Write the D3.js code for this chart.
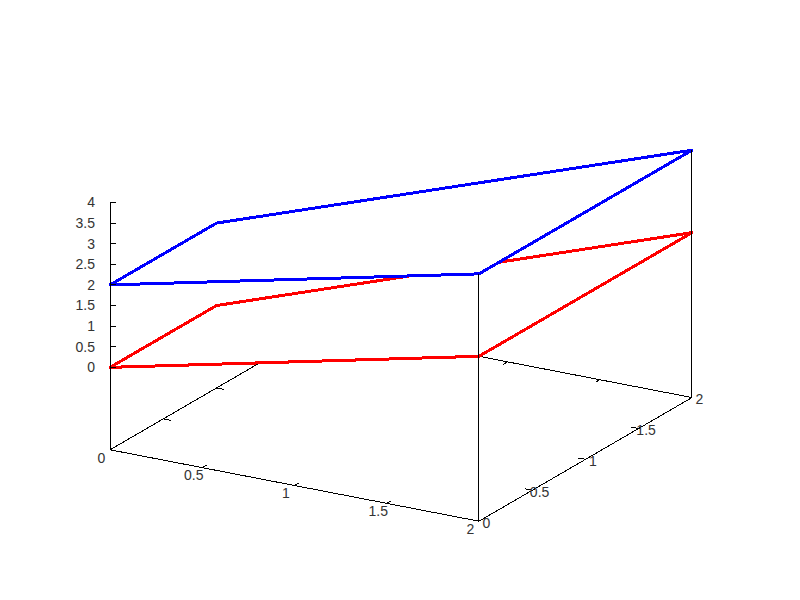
<!DOCTYPE html>
<html>
<head>
<meta charset="utf-8">
<script src="https://cdn.jsdelivr.net/npm/d3@7"></script>
<style>
  body { margin: 0; background: #fff; }
  text { font-family: "Liberation Sans", Arial, sans-serif; font-size: 14px; fill: #333; }
</style>
</head>
<body>
<div class="svg-container"></div>
<script>
// data: two scan rows (x = 0 and x = 2), each with two points
var rowX = [0, 2];
var rowY = [[0, 1], [0, 2]];
var redZ = [[0, 0], [2, 2]];
var blueZ = [[2, 2], [4, 4]];

var xTicks = [0, 0.5, 1, 1.5, 2],
    yTicks = [0, 0.5, 1, 1.5, 2],
    zTicks = [0, 0.5, 1, 1.5, 2, 2.5, 3, 3.5, 4];

var width = 800, height = 600;

var svg = d3.select(".svg-container").append("svg")
    .attr("width", width)
    .attr("height", height);

// gnuplot style view: rot_x 60, rot_z 30, ticslevel 0.5
var rotX = 60 * Math.PI / 180,
    rotZ = 30 * Math.PI / 180,
    cx = 401, cy = 300,
    sx = 213, sy = 142.8;

var zMin = 0, zMax = 4,
    zBase = zMin - 0.5 * (zMax - zMin);

var xN = d3.scaleLinear().domain([0, 2]).range([-1, 1]),
    yN = d3.scaleLinear().domain([0, 2]).range([-1, 1]),
    zN = d3.scaleLinear().domain([zBase, zMax]).range([-1, 1]);

function project(x, y, z) {
    var X = xN(x), Y = yN(y), Z = zN(z);
    var u = X * Math.cos(rotZ) + Y * Math.sin(rotZ);
    var v = -X * Math.sin(rotZ) + Y * Math.cos(rotZ);
    var w = v * Math.cos(rotX) + Z * Math.sin(rotX);
    return [cx + sx * u, cy - sy * w];
}

var line = d3.line();
var ticLen = 0.04; // in data units of the other axis

function seg(g, a, b) {
    g.append("path")
        .attr("d", line([a, b]))
        .attr("stroke", "#000")
        .attr("stroke-width", 1)
        .attr("fill", "none")
        .attr("shape-rendering", "crispEdges");
}

// back part of the base (drawn first so surfaces hide it)
var back = svg.append("g").attr("class", "back");
seg(back, project(0, 0, zBase), project(0, 2, zBase));
seg(back, project(0, 2, zBase), project(2, 2, zBase));
// mirror tics on back edges
xTicks.slice(1, -1).forEach(function (t) {
    seg(back, project(t, 2, zBase), project(t, 2 - ticLen, zBase));
});
yTicks.slice(1, -1).forEach(function (t) {
    seg(back, project(0, t, zBase), project(ticLen, t, zBase));
});

// surfaces, hidden3d approximated by white fill in back-to-front order
function surface(zs, color) {
    var pts = [
        project(rowX[0], rowY[0][0], zs[0][0]),
        project(rowX[0], rowY[0][1], zs[0][1]),
        project(rowX[1], rowY[1][1], zs[1][1]),
        project(rowX[1], rowY[1][0], zs[1][0])
    ];
    svg.append("path")
        .attr("d", line(pts) + "Z")
        .attr("fill", "#fff")
        .attr("stroke", color)
        .attr("stroke-width", 3)
        .attr("stroke-linejoin", "round")
        .attr("shape-rendering", "crispEdges");
}
surface(redZ, "#ff0000");
surface(blueZ, "#0000ff");

// front part of the border
var front = svg.append("g").attr("class", "front");
seg(front, project(0, 0, zBase), project(2, 0, zBase));
seg(front, project(2, 0, zBase), project(2, 2, zBase));
seg(front, project(0, 0, zBase), project(0, 0, zMax));
seg(front, project(2, 0, zBase), project(2, 0, zMax));
seg(front, project(2, 2, zBase), project(2, 2, zMax));

// x tics and labels
xTicks.forEach(function (t) {
    if (t > 0 && t < 2) seg(front, project(t, 0, zBase), project(t, ticLen, zBase));
    var p = project(t, -0.08, zBase);
    front.append("text")
        .attr("x", p[0]).attr("y", p[1] + 3)
        .attr("dy", "0.35em")
        .style("text-anchor", "middle")
        .text(t);
});

// y tics and labels
yTicks.forEach(function (t) {
    if (t > 0 && t < 2) seg(front, project(2, t, zBase), project(2 - ticLen, t, zBase));
    var p = project(2.04, t, zBase);
    front.append("text")
        .attr("x", p[0]).attr("y", p[1])
        .attr("dy", "0.35em")
        .style("text-anchor", "middle")
        .text(t);
});

// z tics and labels on the left vertical
zTicks.forEach(function (t) {
    var p = project(0, 0, t);
    seg(front, p, [p[0] + 6, p[1]]);
    front.append("text")
        .attr("x", p[0] - 15).attr("y", p[1])
        .attr("dy", "0.35em")
        .style("text-anchor", "end")
        .text(t);
});
</script>
</body>
</html>
